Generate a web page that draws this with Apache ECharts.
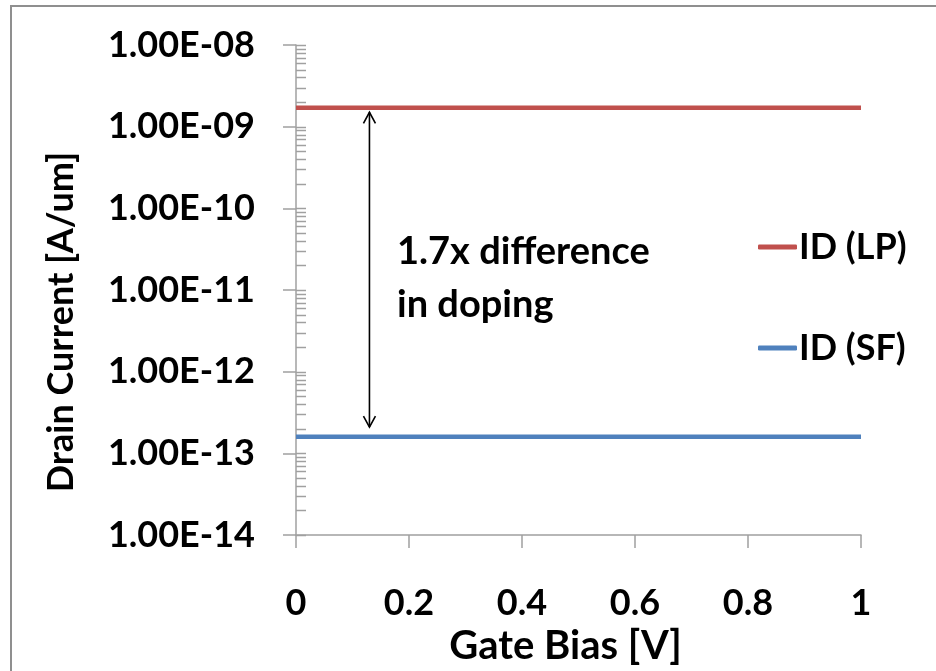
<!DOCTYPE html>
<html>
<head>
<meta charset="utf-8">
<script src="https://cdn.jsdelivr.net/npm/echarts@6/dist/echarts.min.js"></script>
<style>
  html, body { margin: 0; padding: 0; background: #fff; }
  #chart { width: 936px; height: 671px; }
</style>
</head>
<body>
<div id="chart"></div>
<script>
// Gate bias sweep [V] and drain current [A/um] for the two devices
const gateBias = [0, 1];
const idLP = [1.7e-9, 1.7e-9];
const idSF = [1.6e-13, 1.6e-13];
const seriesNames = ['ID (LP)', 'ID (SF)'];

// Axis tick labels
const yTickLabels = ['1.00E-14', '1.00E-13', '1.00E-12', '1.00E-11', '1.00E-10', '1.00E-09', '1.00E-08'];
const xTickLabels = ['0', '0.2', '0.4', '0.6', '0.8', '1'];

// Double-headed arrow between the two currents, plus its note
const arrowX = [0.13];
const arrowEnds = [1.5e-9, 2.1e-13];
const noteLines = ['1.7x difference', 'in doping'];

const FONT = 'Lato, "Open Sans", sans-serif';
const AXIS_GREY = '#a0a0a0';

// Decade ticks plus 2..9 sub-ticks, drawn on the inner side of the value axis
const innerTicks = [];
for (let e = -14; e <= -8; e++) {
  innerTicks.push([0, Math.pow(10, e)]);
  if (e < -8) for (let m = 2; m <= 9; m++) innerTicks.push([0, m * Math.pow(10, e)]);
}

const chart = echarts.init(document.getElementById('chart'), null, { renderer: 'canvas' });

chart.setOption({
  animation: false,
  backgroundColor: '#fff',
  grid: { left: 296, right: 75, top: 45, bottom: 136, containLabel: false },
  xAxis: {
    type: 'value', min: 0, max: 1, interval: 0.2,
    axisLine: { show: true, lineStyle: { color: AXIS_GREY, width: 1.5 } },
    axisTick: { show: true, length: 13, lineStyle: { color: AXIS_GREY, width: 1.5 } },
    splitLine: { show: false },
    axisLabel: {
      margin: 50, color: '#000', fontFamily: FONT, fontWeight: 'bold', fontSize: 36,
      formatter: v => xTickLabels[Math.round(v / 0.2)]
    },
    name: 'Gate Bias [V]', nameLocation: 'middle', nameGap: 85,
    nameTextStyle: { color: '#000', fontFamily: FONT, fontWeight: 'bold', fontSize: 40, padding: [0, 26, 0, 0] }
  },
  yAxis: {
    type: 'log', logBase: 10, min: 1e-14, max: 1e-8, interval: 1,
    axisLine: { show: true, lineStyle: { color: AXIS_GREY, width: 1.5 } },
    axisTick: { show: true, length: 13, lineStyle: { color: AXIS_GREY, width: 1.5 } },
    splitLine: { show: false },
    axisLabel: {
      margin: 41, color: '#000', fontFamily: FONT, fontWeight: 'bold', fontSize: 36,
      formatter: v => yTickLabels[Math.round(Math.log10(v)) + 14]
    },
    name: 'Drain Current [A/um]', nameLocation: 'middle', nameGap: 217,
    nameTextStyle: { color: '#000', fontFamily: FONT, fontWeight: 'bold', fontSize: 36, padding: [0, 64, 0, 0] }
  },
  legend: {
    orient: 'vertical', left: 753, top: 224, itemGap: 65,
    itemWidth: 39, itemHeight: 5, icon: 'roundRect',
    textStyle: { color: '#000', fontFamily: FONT, fontWeight: 'bold', fontSize: 36, padding: [0, 0, 0, -3] },
    data: seriesNames
  },
  series: [
    {
      name: seriesNames[0], type: 'line', showSymbol: false, symbol: 'none',
      data: gateBias.map((x, i) => [x, idLP[i]]),
      lineStyle: { color: '#C0504D', width: 4.5 }, itemStyle: { color: '#C0504D' }, z: 5
    },
    {
      name: seriesNames[1], type: 'line', showSymbol: false, symbol: 'none',
      data: gateBias.map((x, i) => [x, idSF[i]]),
      lineStyle: { color: '#4F81BD', width: 4.5 }, itemStyle: { color: '#4F81BD' }, z: 5
    },
    {
      // inner tick marks of the log axis
      type: 'custom', silent: true, clip: false, z: 1,
      data: innerTicks,
      renderItem: (params, api) => {
        const p = api.coord([api.value(0), api.value(1)]);
        const y = Math.round(p[1]) + 0.5;
        return {
          type: 'line',
          shape: { x1: p[0], y1: y, x2: p[0] + 10, y2: y },
          style: { stroke: AXIS_GREY, lineWidth: 1.5 }
        };
      }
    },
    {
      // double-headed arrow
      type: 'custom', silent: true, clip: false, z: 6,
      encode: { x: 0, y: [1, 2] },
      data: [[arrowX[0], arrowEnds[0], arrowEnds[1]]],
      renderItem: (params, api) => {
        const a = api.coord([api.value(0), api.value(1)]);
        const b = api.coord([api.value(0), api.value(2)]);
        const st = { stroke: '#000', lineWidth: 1.6, fill: null };
        return {
          type: 'group',
          children: [
            { type: 'line', shape: { x1: a[0], y1: a[1], x2: b[0], y2: b[1] }, style: st },
            { type: 'polyline', shape: { points: [[a[0] - 6, a[1] + 11], [a[0], a[1]], [a[0] + 6, a[1] + 11]] }, style: st },
            { type: 'polyline', shape: { points: [[b[0] - 6, b[1] - 11], [b[0], b[1]], [b[0] + 6, b[1] - 11]] }, style: st }
          ]
        };
      }
    }
  ],
  graphic: [
    {
      type: 'rect', silent: true, z: 0,
      shape: { x: 11, y: 6, width: 1000, height: 1000 },
      style: { fill: null, stroke: '#8f8f8f', lineWidth: 2 }
    },
    {
      type: 'text', left: 397, top: 225, z: 10,
      style: {
        text: noteLines.join('\n'), fill: '#000',
        font: 'bold 38px ' + FONT, lineHeight: 53
      }
    }
  ]
});
</script>
</body>
</html>
